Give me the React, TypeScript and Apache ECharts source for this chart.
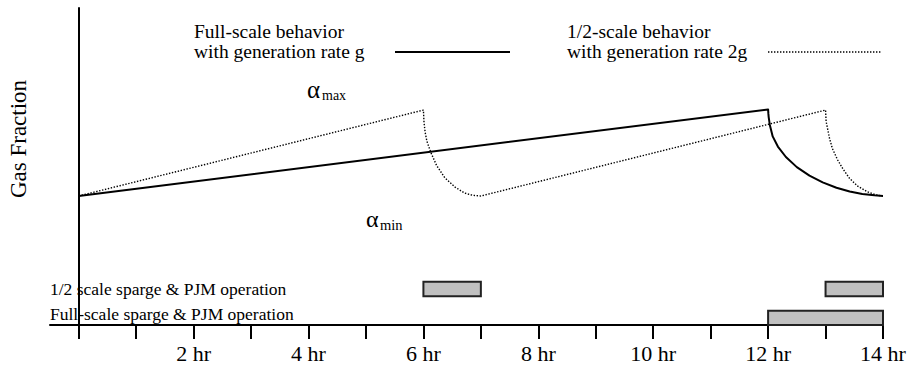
import React, { useEffect, useRef } from "react";
import * as echarts from "echarts";

// Full-scale vessel: gas fraction (relative units) vs time in hours
const fullScaleHours = [0, 12, 12.005, 12.01, 12.03, 12.08, 12.17, 12.31, 12.5, 12.72, 12.95, 13.19, 13.42, 13.64, 13.85, 14];
const fullScaleGas = [40.7, 68.0, 66.6, 65.6, 63.1, 59.5, 56.3, 53.0, 49.8, 47.1, 45.0, 43.3, 42.1, 41.3, 40.9, 40.7];

// Half-scale vessel: twice the generation rate, mixed twice as often
const halfScaleHours = [0, 6, 6.01, 6.03, 6.06, 6.13, 6.23, 6.37, 6.55, 6.72, 6.86, 7, 13, 13.01, 13.04, 13.07, 13.12, 13.21, 13.3, 13.42, 13.56, 13.73, 13.88, 14];
const halfScaleGas = [40.7, 67.8, 64.0, 60.8, 58.0, 54.4, 50.3, 46.5, 43.5, 41.6, 40.9, 40.7, 67.8, 64.2, 61.5, 58.8, 55.6, 52.1, 49.3, 46.2, 43.8, 42.0, 41.0, 40.7];

// Sparge & PJM operating windows [start hr, end hr]
const halfScaleOps = [
  [6, 7],
  [13, 14],
];
const fullScaleOps = [[12, 14]];

// Vertical lanes used by the operating-window bars
const halfScaleLane = [9.05, 13.66];
const fullScaleLane = [0, 4.5];

// Axis ticks and labels
const tickHours = [0, 1, 2, 3, 4, 5, 6, 7, 8, 9, 10, 11, 12, 13, 14];
const labelHours = [2, 4, 6, 8, 10, 12, 14];

const FONT = "'Liberation Serif', 'Times New Roman', serif";

export default function App() {
  const ref = useRef<HTMLDivElement>(null);

  useEffect(() => {
    if (!ref.current) return;
    const chart = echarts.init(ref.current, undefined, { renderer: "svg" });

    const barData = [
      ...halfScaleOps.map(([s, e]) => [s, e, halfScaleLane[0], halfScaleLane[1]]),
      ...fullScaleOps.map(([s, e]) => [s, e, fullScaleLane[0], fullScaleLane[1]]),
    ];

    const textStyle = (text: string, size: number, extra: any = {}) => ({
      text,
      fontFamily: FONT,
      fontSize: size,
      fill: "#000",
      align: "left",
      verticalAlign: "middle",
      ...extra,
    });

    chart.setOption({
      animation: false,
      backgroundColor: "#ffffff",
      grid: { left: 50, right: 39, top: 8, bottom: 48 },
      xAxis: {
        type: "value",
        min: -0.5,
        max: 14,
        splitLine: { show: false },
        axisLine: { show: true, lineStyle: { color: "#000", width: 2 } },
        axisTick: {
          show: true,
          customValues: tickHours,
          length: 14,
          lineStyle: { color: "#000", width: 2 },
        },
        axisLabel: {
          customValues: labelHours,
          formatter: (v: number) => `${v} hr`,
          color: "#000",
          fontFamily: FONT,
          fontSize: 22,
          margin: 17,
        },
      },
      yAxis: {
        type: "value",
        min: 0,
        max: 100,
        splitLine: { show: false },
        axisTick: { show: false },
        axisLabel: { show: false },
        axisLine: { show: true, lineStyle: { color: "#000", width: 2 } },
      },
      series: [
        {
          name: "Full-scale behavior",
          type: "line",
          data: fullScaleHours.map((h, i) => [h, fullScaleGas[i]]),
          showSymbol: false,
          symbol: "none",
          lineStyle: { color: "#000", width: 2, join: "round" },
          z: 3,
        },
        {
          name: "1/2-scale behavior",
          type: "line",
          data: halfScaleHours.map((h, i) => [h, halfScaleGas[i]]),
          showSymbol: false,
          symbol: "none",
          lineStyle: { color: "#000", width: 1.4, type: [1.4, 1.6] },
          z: 2,
        },
        {
          name: "operation",
          type: "custom",
          data: barData,
          encode: { x: [0, 1], y: [2, 3] },
          renderItem: (_params: any, api: any) => {
            const tl = api.coord([api.value(0), api.value(3)]);
            const br = api.coord([api.value(1), api.value(2)]);
            return {
              type: "rect",
              shape: { x: tl[0], y: tl[1], width: br[0] - tl[0], height: br[1] - tl[1] },
              style: { fill: "#c0c0c0", stroke: "#222", lineWidth: 2 },
            };
          },
          z: 4,
        },
      ],
      graphic: [
        {
          type: "text",
          x: 18,
          y: 139,
          rotation: Math.PI / 2,
          style: textStyle("Gas Fraction", 23, { align: "center" }),
        },
        {
          type: "text",
          x: 194,
          y: 41,
          style: textStyle("Full-scale behavior\nwith generation rate g", 19.5, { lineHeight: 20 }),
        },
        {
          type: "line",
          shape: { x1: 395, y1: 52, x2: 510, y2: 52 },
          style: { stroke: "#000", lineWidth: 2 },
        },
        {
          type: "text",
          x: 567,
          y: 41,
          style: textStyle("1/2-scale behavior\nwith generation rate 2g", 19.5, { lineHeight: 20 }),
        },
        {
          type: "line",
          shape: { x1: 768, y1: 52, x2: 881, y2: 52 },
          style: { stroke: "#000", lineWidth: 1.4, lineDash: [1.4, 1.6] },
        },
        { type: "text", x: 307, y: 89, style: textStyle("α", 25) },
        { type: "text", x: 322, y: 95, style: textStyle("max", 14) },
        { type: "text", x: 366, y: 219, style: textStyle("α", 24) },
        { type: "text", x: 380, y: 225, style: textStyle("min", 14.5) },
        {
          type: "text",
          x: 50,
          y: 289,
          style: textStyle("1/2 scale sparge & PJM operation", 17.5),
        },
        {
          type: "text",
          x: 50,
          y: 314,
          style: textStyle("Full-scale sparge & PJM operation", 17.5),
        },
      ],
    });

    return () => chart.dispose();
  }, []);

  return (
    <div
      ref={ref}
      style={{ position: "fixed", left: 0, top: 0, width: 922, height: 373, background: "#fff" }}
    />
  );
}
